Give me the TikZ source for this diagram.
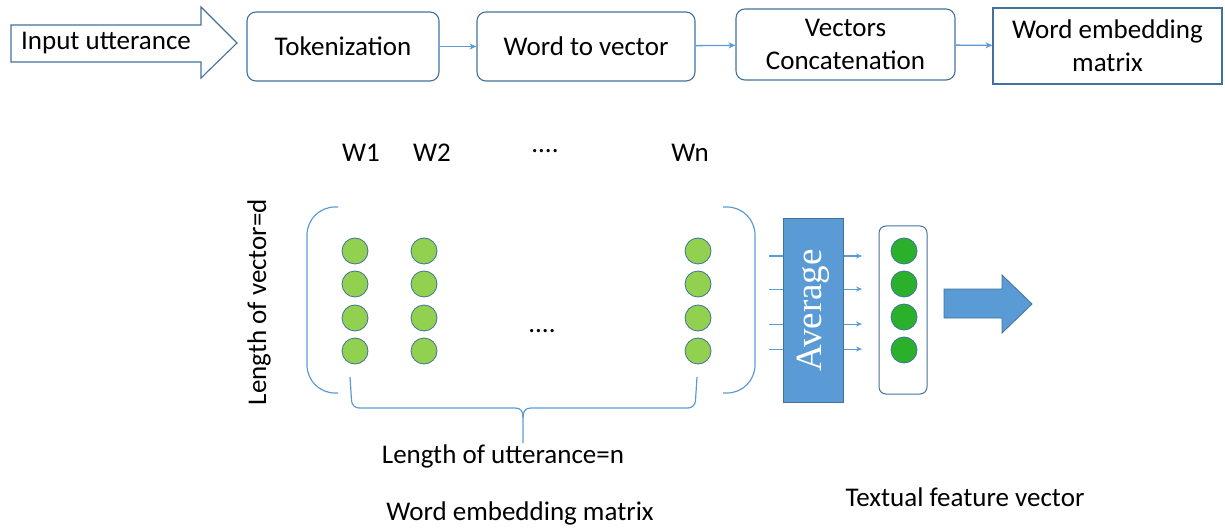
\documentclass[tikz,border=0pt]{standalone}
\usepackage{fontspec}
\setmainfont{Carlito}
\newfontfamily\avgfont{Liberation Serif}
\usetikzlibrary{arrows.meta, positioning}
\definecolor{boxline}{HTML}{41719C}
\definecolor{flowline}{HTML}{5B9BD5}
\definecolor{wordgreen}{HTML}{92D050}
\definecolor{featgreen}{HTML}{2BB02B}
\tikzset{
    pipeline/.style={x=1pt, y=-1pt, >={Stealth[length=7pt, width=6pt]}, font=\fontsize{27}{30}\selectfont},
    stage/.style={draw=boxline, line width=1.1pt, rounded corners=9pt, minimum height=69pt, align=center},
    twoline/.style={font=\fontsize{27}{33}\selectfont},
    flow/.style={->, draw=flowline, line width=1.3pt},
    thinflow/.style={draw=flowline, line width=1pt},
    bracket/.style={draw=flowline, line width=1.2pt},
    wordunit/.style={circle, draw=boxline, fill=wordgreen, line width=0.8pt, minimum size=26pt, inner sep=0pt},
    featunit/.style={circle, draw=boxline, fill=featgreen, line width=0.8pt, minimum size=26pt, inner sep=0pt},
    avgbox/.style={draw=boxline, fill=flowline, line width=1pt, text=white, font=\avgfont\fontsize{37}{37}\selectfont},
}
\begin{document}
\begin{tikzpicture}[pipeline]
    \useasboundingbox (0,0) rectangle (1225,529);

    % top row: processing steps
    \draw[draw=boxline, line width=1.1pt] (11,25) -- (201,25) -- (201,7) -- (237,43)
        -- (201,78) -- (201,62) -- (11,62) -- cycle;
    \node (input) at (106,43) {Input utterance};
    \node[stage, minimum width=192pt] (tok) at (343,46.5) {Tokenization};
    \node[stage, minimum width=218pt] (w2v) at (586,46.5) {Word to vector};
    \node[stage, twoline, minimum width=219pt, minimum height=71pt] (concat) at (845.5,44.5) {Vectors\\Concatenation};
    \node[stage, twoline, rounded corners=0pt, minimum width=229pt, minimum height=76pt] (wem) at (1107.5,46) {Word embedding\\matrix};

    \draw[flow] (tok) -- (w2v);
    \draw[flow] (w2v) -- (concat);
    \draw[flow] (concat) -- (wem);

    % word columns
    \node (w1) at (361,153) {W1};
    \node (w2) at (432,153) {W2};
    \node (wdots) at (545,151) {....};
    \node (wn) at (690,153) {Wn};
    \foreach \c/\x in {1/355, 2/424, n/698}
        \foreach \r/\y in {1/251, 2/284, 3/318, 4/351}
            \node[wordunit] (u\c\r) at (\x,\y) {};
    \node (mdots) at (542,331) {....};

    % matrix brackets
    \draw[bracket, rounded corners=28pt] (338,207) -- (307,207) -- (307,393) -- (338,393);
    \draw[bracket, rounded corners=28pt] (723,207) -- (755,207) -- (755,393) -- (723,393);

    % brace under the columns
    \draw[bracket] (350,377) [rounded corners=7pt] -- (352,408) [sharp corners] -- (515,408)
        .. controls (521,408) and (523,411) .. (523,418) -- (523,443);
    \draw[bracket] (697,377) [rounded corners=7pt] -- (695,408) [sharp corners] -- (531,408)
        .. controls (525,408) and (523,411) .. (523,418);

    \node[rotate=90] (veclen) at (259,302) {Length of vector=d};
    \node (uttlen) at (503,456) {Length of utterance=n};
    \node (matcap) at (520,513) {Word embedding matrix};

    % averaging
    \node[avgbox, rotate=90, minimum width=184pt, minimum height=60pt, inner sep=0pt] (avg) at (813,310.5) {Average};
    \foreach \y [count=\i] in {256, 289, 324, 349} {
        \coordinate (in\i) at (769,\y);
        \coordinate (out\i) at (862,\y);
        \draw[thinflow] (in\i) -- (in\i -| avg.north);
        \draw[thinflow, ->, >={Stealth[length=6pt, width=5pt]}] (out\i -| avg.south) -- (out\i);
    }

    % feature vector
    \node[draw=boxline, line width=1pt, rounded corners=7pt, minimum width=48pt, minimum height=168pt] (feat) at (903,310) {};
    \foreach \r/\y in {1/251, 2/284, 3/317, 4/350}
        \node[featunit] (f\r) at (904,\y) {};
    \draw[draw=boxline, fill=flowline, line width=0.8pt] (944,289) -- (1002,289) -- (1002,275)
        -- (1032,304) -- (1002,333) -- (1002,318) -- (944,318) -- cycle;
    \node (featcap) at (965,497) {Textual feature vector};
\end{tikzpicture}
\end{document}
